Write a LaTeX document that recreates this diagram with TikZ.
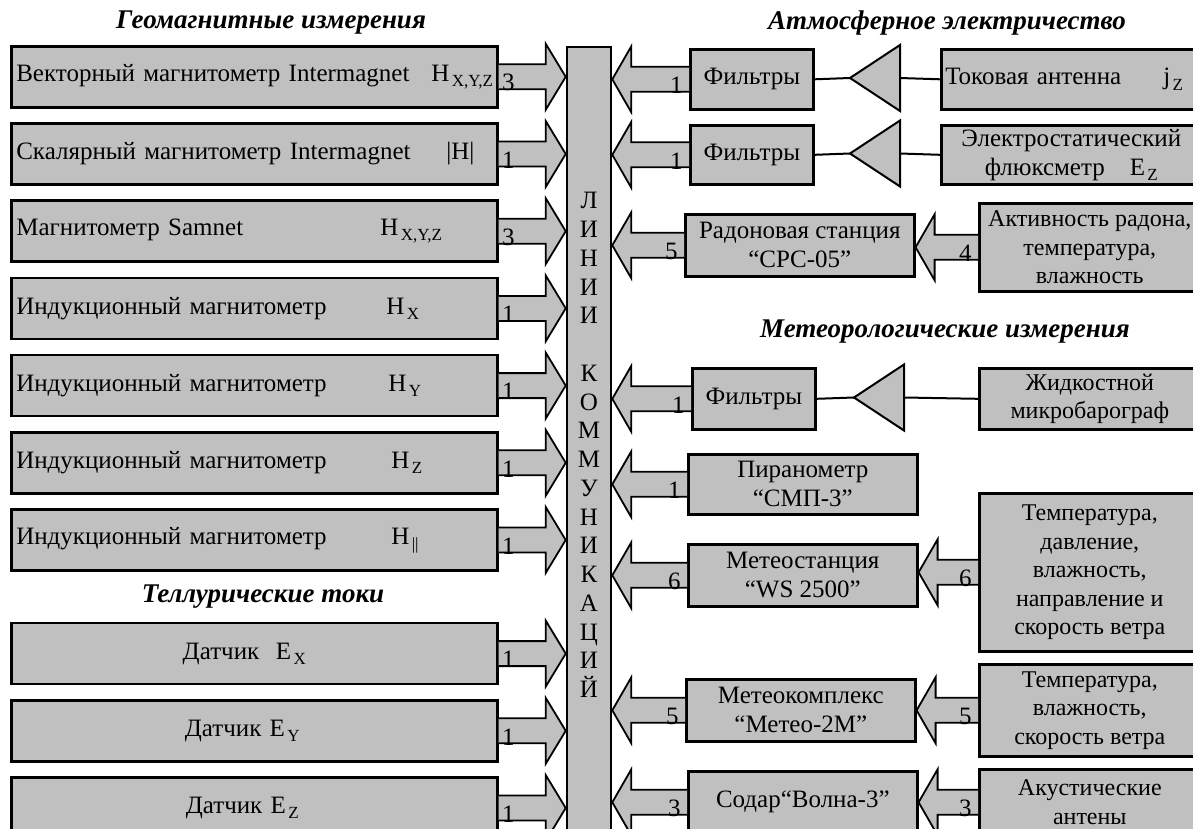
\documentclass[tikz,border=0pt]{standalone}
\usepackage{fontspec}
\setmainfont{Liberation Serif}
\usetikzlibrary{calc}
\usetikzlibrary{positioning}
\definecolor{panel}{RGB}{192,192,192}
\newcommand{\bodysize}{\fontsize{12.5}{14.5}\selectfont}
\newcommand{\lowsub}[1]{\kern1.2pt\raisebox{-0.45ex}{\fontsize{8.5}{9}\selectfont #1}}
\tikzset{
  box/.style={draw, line width=1.3pt, fill=panel, inner sep=0pt, font=\bodysize},
  gbox/.style={box, minimum width=243pt, minimum height=30.5pt, text width=238pt, align=left},
  tbox/.style={gbox, align=center},
  fbox/.style={box, anchor=north west, minimum width=61.5pt, align=center},
  mbox/.style={box, anchor=north west, minimum width=114.5pt, align=center},
  rbox/.style={box, anchor=north west, minimum width=110.5pt, align=center,
               font=\fontsize{12}{14.3}\selectfont},
  fat/.style={line width=0.9pt, fill=panel, line join=miter},
  wire/.style={line width=1pt},
  amp/.style={draw, line width=1pt, fill=panel},
  num/.style={font=\bodysize, inner sep=0.5pt},
  ttl/.style={font=\fontsize{13.5}{15}\selectfont\bfseries\itshape}
}
% wide arrow from a box to the bus (pointing right)
\newcommand{\arrright}[2]{%
  \coordinate (tip) at (#1.east -| bus.west);
  \filldraw[fat] ($(#1.east)+(0,-12.5)$) -- ($(tip)+(-20,-12.5)$) -- ($(tip)+(-20,-33)$)
    -- (tip) -- ($(tip)+(-20,33)$) -- ($(tip)+(-20,12.5)$) -- ($(#1.east)+(0,12.5)$);
  \node[num, anchor=west] at ($(#1.east)+(2,6)$) {#2};
}
% wide arrow pointing left, from #1 to #2
\newcommand{\arrleft}[3]{%
  \coordinate (tip) at (#1.west -| #2.east);
  \filldraw[fat] ($(#1.west)+(0,-12.5)$) -- ($(tip)+(19,-12.5)$) -- ($(tip)+(19,-33)$)
    -- (tip) -- ($(tip)+(19,33)$) -- ($(tip)+(19,12.5)$) -- ($(#1.west)+(0,12.5)$);
  \node[num, anchor=east] at ($(#1.west)+(-5,6)$) {#3};
}
% amplifier triangle, tip at #2
\newcommand{\amp}[2]{%
  \coordinate (#1) at #2;
  \coordinate (#1b) at ($(#1)+(50,0)$);
  \filldraw[amp] (#1) -- ($(#1b)+(0,-33)$) -- ($(#1b)+(0,33)$) -- cycle;
}

\begin{document}
\begin{tikzpicture}[x=0.5pt, y=-0.5pt]
  \useasboundingbox (0,0) rectangle (1193,829);
  \clip (0,0) rectangle (1193,829);

  % bus
  \node[box, minimum width=22pt, minimum height=398pt, align=center,
        font=\fontsize{12.5}{14.375}\selectfont] (bus) at (589,445)
    {Л\\И\\Н\\И\\И\\\mbox{}\\К\\О\\М\\М\\У\\Н\\И\\К\\А\\Ц\\И\\Й};

  % geomagnetic
  \node[ttl] (geo) at (271,23) {Геомагнитные измерения};
  \node[gbox, anchor=north west] (g1) at (10,45)
    {\makebox[207.5pt][l]{Векторный магнитометр Intermagnet}H\lowsub{X,Y,Z}};
  \node[gbox, below=6.8pt of g1] (g2)
    {\makebox[215pt][l]{Скалярный магнитометр Intermagnet}|H|};
  \node[gbox, below=6.8pt of g2] (g3)
    {\makebox[182pt][l]{Магнитометр Samnet}H\lowsub{X,Y,Z}};
  \node[gbox, below=6.8pt of g3] (g4)
    {\makebox[185pt][l]{Индукционный магнитометр}H\lowsub{X}};
  \node[gbox, below=6.8pt of g4] (g5)
    {\makebox[186pt][l]{Индукционный магнитометр}H\lowsub{Y}};
  \node[gbox, below=6.8pt of g5] (g6)
    {\makebox[187.5pt][l]{Индукционный магнитометр}H\lowsub{Z}};
  \node[gbox, below=6.8pt of g6] (g7)
    {\makebox[187.5pt][l]{Индукционный магнитометр}H\lowsub{||}};

  % telluric
  \node[tbox, below=25pt of g7] (t1) {Датчик\ \ E\lowsub{X}\kern10pt};
  \node[tbox, below=6.8pt of t1] (t2) {Датчик E\lowsub{Y}\kern12pt};
  \node[tbox, below=6.8pt of t2] (t3) {Датчик E\lowsub{Z}\kern12pt};
  \node[ttl] (tell) at (263,597) {Теллурические токи};

  \arrright{g1}{3}
  \arrright{g2}{1}
  \arrright{g3}{3}
  \arrright{g4}{1}
  \arrright{g5}{1}
  \arrright{g6}{1}
  \arrright{g7}{1}
  \arrright{t1}{1}
  \arrright{t2}{1}
  \arrright{t3}{1}

  % atmospheric electricity
  \node[ttl] (atm) at (947,23) {Атмосферное электричество};
  \node[fbox, minimum height=30pt] (f1) at (689,48) {Фильтры};
  \node[box, anchor=north west, minimum width=130pt, minimum height=30pt,
        text width=126pt, align=left] (tok) at (940,48)
    {\makebox[109pt][l]{Токовая антенна}j\lowsub{Z}};
  \node[fbox, minimum height=29.5pt] (f2) at (689,124) {Фильтры};
  \node[box, anchor=north west, minimum width=130pt, minimum height=29.5pt,
        align=center] (el) at (940,124)
    {Электростатический\\флюксметр\quad E\lowsub{Z}};
  \amp{a1}{(850,78)}
  \amp{a2}{(850,153.5)}
  \draw[wire] (f1.east) -- (a1);
  \draw[wire] (a1b) -- (tok.west);
  \draw[wire] (f2.east) -- (a2);
  \draw[wire] (a2b) -- (el.west);

  \node[mbox, minimum height=31pt] (rad) at (684,213) {Радоновая станция\\“СРС-05”};
  \node[rbox, minimum height=44pt] (akt) at (978,202)
    {Активность радона,\\температура,\\влажность};

  % meteorology
  \node[ttl] (meteo) at (945,332) {Метеорологические измерения};
  \node[fbox, minimum height=30.5pt] (f3) at (691,367) {Фильтры};
  \node[rbox, minimum height=30.5pt] (zhid) at (978,367) {Жидкостной\\микробарограф};
  \amp{a3}{(854,397.5)}
  \draw[wire] (f3.east) -- (a3);
  \draw[wire] (a3b) -- (zhid.west);

  \node[mbox, minimum height=30pt] (pyr) at (687,453) {Пиранометр\\“СМП-3”};
  \node[mbox, minimum height=31pt] (met) at (687,543) {Метеостанция\\“WS 2500”};
  \node[rbox, minimum height=79pt] (temp) at (978,492)
    {Температура,\\давление,\\влажность,\\направление и\\скорость ветра};
  \node[mbox, minimum height=31pt] (m2m) at (685,678) {Метеокомплекс\\“Метео-2М”};
  \node[rbox, minimum height=46pt] (temp2) at (978,663)
    {Температура,\\влажность,\\скорость ветра};
  \node[mbox, minimum height=31pt] (sod) at (687,770) {Содар“Волна-3”};
  \node[rbox, minimum height=33pt] (ak) at (978,768) {Акустические\\антены};

  \arrleft{f1}{bus}{1}
  \arrleft{f2}{bus}{1}
  \arrleft{rad}{bus}{5}
  \arrleft{akt}{rad}{4}
  \arrleft{f3}{bus}{1}
  \arrleft{pyr}{bus}{1}
  \arrleft{met}{bus}{6}
  \arrleft{temp}{met}{6}
  \arrleft{m2m}{bus}{5}
  \arrleft{temp2}{m2m}{5}
  \arrleft{sod}{bus}{3}
  \arrleft{ak}{sod}{3}
\end{tikzpicture}
\end{document}
